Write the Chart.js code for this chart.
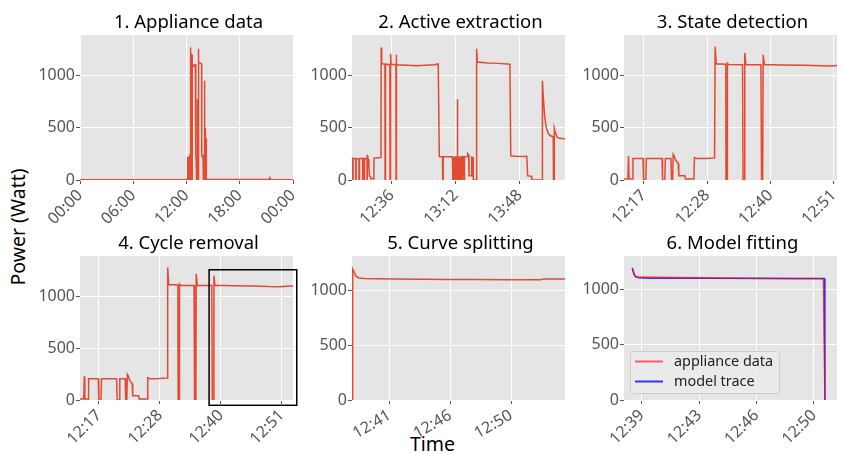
<!DOCTYPE html>
<html>
<head>
<meta charset="utf-8">
<script src="https://cdn.jsdelivr.net/npm/chart.js@4.4.1/dist/chart.umd.min.js"></script>
<style>
  body { margin: 0; background: #fff; }
  #fig { position: relative; width: 842px; height: 454px; overflow: hidden; font-family: "Noto Sans", sans-serif; }
  #fig canvas { position: absolute; }
  .rotulo { position: absolute; font-size: 19.5px; line-height: 1; color: #000; white-space: nowrap; }
</style>
</head>
<body>
<div id="fig">
  <div class="rotulo" style="left:17.5px; top:227px; transform: translate(-50%, -50%) rotate(-90deg);">Power (Watt)</div>
  <div class="rotulo" style="left:432.5px; top:444px; transform: translate(-50%, -50%);">Time</div>
</div>
<script>
Chart.defaults.font.family = '"Noto Sans", sans-serif';
Chart.defaults.font.size = 16;
Chart.defaults.color = "#555555";

/* ========================= */
/* DATOS (minutos del día)   */
/* ========================= */

const powerTicks = [0, 500, 1000];

// 1. Appliance data: 24 h
const dayTicks = [0, 360, 720, 1080, 1440];
const dayLabels = ["00:00", "06:00", "12:00", "18:00", "00:00"];
const dayBefore = [
  [0, 3], [725.4, 3], [725.5, 220], [727.0, 220], [727.1, 0], [728.0, 0], [728.1, 220],
  [730.0, 215], [730.1, 0], [731.0, 0], [731.1, 220], [733.6, 215]
];
const dayAfter = [
  [854.0, 0], [854.5, 4], [1283.0, 4], [1283.3, 22], [1285.5, 20], [1285.8, 4], [1440, 3]
];

// 2. Active extraction
const activeTicks = [756, 792, 828];
const activeLabels = ["12:36", "13:12", "13:48"];
const activeTrace = [
  [733.7, 215], [734.1, 215], [734.1, 0], [734.3, 0], [734.3, 205], [735.8, 205], [735.8, 0],
  [736.0, 0], [736.0, 205], [737.6, 200], [737.6, 0], [737.9, 0], [737.9, 205], [739.7, 205],
  [739.7, 0], [739.9, 0], [739.9, 205], [740.6, 205], [740.6, 0], [740.8, 0], [740.8, 205],
  [742.1, 205], [742.2, 0], [742.3, 242], [742.8, 200], [743.2, 120], [743.4, 80], [743.5, 40],
  [744.2, 30], [744.3, 12], [746.0, 12], [746.1, 210], [750.0, 215], [750.1, 1270], [750.4, 1115],
  [752.2, 1110], [752.3, 0], [752.5, 0], [752.6, 1110], [755.0, 1105], [755.1, 0], [755.4, 0],
  [755.5, 1210], [755.7, 1110], [758.4, 1105], [758.5, 0], [758.6, 1200], [758.8, 1105],
  [765, 1100], [770, 1096], [775, 1100], [780, 1104], [782.2, 1112], [782.8, 225], [784.6, 222],
  [784.7, 0], [784.9, 0], [785.0, 222], [790.2, 222],
  [790.3, 0], [790.5, 0], [790.6, 220], [790.9, 220], [791.0, 0], [791.2, 0], [791.3, 220],
  [791.6, 220], [791.7, 0], [791.9, 0], [792.0, 222], [792.4, 222], [792.5, 0], [792.7, 0],
  [792.8, 220], [792.9, 775], [793.0, 220], [793.3, 220], [793.4, 0], [793.6, 0], [793.7, 220],
  [794.1, 220], [794.2, 0], [794.4, 0], [794.5, 220], [794.9, 220], [795.0, 0], [795.2, 0],
  [795.3, 225], [795.8, 225], [795.9, 0], [796.1, 0], [796.2, 222], [796.7, 222], [796.8, 0],
  [797.0, 0], [797.1, 222], [798.7, 225], [798.8, 252], [799.3, 240], [799.5, 40], [800.9, 40],
  [801.0, 220], [801.8, 215], [801.9, 0], [803.7, 0], [803.8, 1258], [804.2, 1130], [810, 1122],
  [816, 1118], [822.5, 1110], [823.0, 232], [826, 228], [830, 225], [832.0, 228], [832.5, 40],
  [834.7, 35], [834.8, 0], [840.7, 0], [840.8, 951], [841.3, 800], [842, 620], [843, 500],
  [844, 450], [845.1, 426], [846.9, 415], [847.0, 0], [847.4, 0], [847.5, 497], [848, 460],
  [849, 415], [849.8, 403], [853.5, 392]
];

// 3. State detection / 4. Cycle removal
const stateTicks = [737.33, 748.67, 760, 771.33];
const stateLabels = ["12:17", "12:28", "12:40", "12:51"];
const stateTrace = [
  [733.4, 10], [734.5, 10], [734.6, 230], [734.7, 10], [735.3, 10], [735.4, 205], [737.2, 205],
  [737.3, 0], [737.7, 0], [737.8, 205], [740.6, 205], [740.7, 0], [741.1, 0], [741.2, 205],
  [742.2, 205], [742.3, 0], [742.5, 0], [742.6, 247], [742.8, 230], [743.0, 195], [743.3, 170],
  [743.5, 160], [743.6, 40], [744.7, 40], [744.8, 10], [746.3, 10], [746.4, 215], [746.9, 205],
  [748.5, 207], [750.0, 212], [750.1, 1280], [750.3, 1115], [752.0, 1110], [752.05, 0],
  [752.25, 0], [752.3, 1120], [752.5, 1108], [755.0, 1105], [755.1, 0], [755.35, 0],
  [755.4, 1218], [755.6, 1108], [758.3, 1105], [758.4, 0], [758.6, 0], [758.7, 1200],
  [758.9, 1108], [762, 1103], [766, 1100], [769, 1095], [771, 1094], [772, 1097], [773.4, 1100]
];
const boxTime = [757.8, 774.1];
const boxPower = [-51, 1257];

// 5. Curve splitting
const cycleTicks = [761.5, 766, 770.5];
const cycleLabels = ["12:41", "12:46", "12:50"];
const cycleTrace = [
  [758.7, 0], [758.75, 1195], [758.85, 1170], [759.0, 1130], [759.2, 1115], [759.6, 1110],
  [760.5, 1108], [762, 1106], [764, 1103], [766, 1101], [768, 1100], [770, 1099],
  [772.7, 1099], [772.9, 1104], [774.5, 1105]
];

// 6. Model fitting
const fitTicks = [759.5, 763.17, 766.83, 770.5];
const fitLabels = ["12:39", "12:43", "12:46", "12:50"];
const fitAppliance = [
  [758.9, 1190], [759.05, 1130], [759.2, 1110], [759.5, 1112], [761, 1110], [762, 1108],
  [763.5, 1106], [765, 1100], [767, 1098], [769, 1097], [771.1, 1096], [771.2, 0]
];
const fitModel = [
  [758.9, 1195], [759.0, 1140], [759.1, 1115], [759.3, 1105], [760, 1101], [765, 1100],
  [771.15, 1098], [771.2, 0]
];

/* ========================= */
/* GEOMETRÍA                 */
/* ========================= */

const EJE_Y_W = 70;
const ANCHO_PLOT = 213;
const MARGEN_DER = 6;
const COLS = [80, 352, 624];
const FILAS = [
  { top: 35, h: 145, canvasTop: 0, canvasH: 225 },
  { top: 256, h: 144, canvasTop: 221, canvasH: 233 }
];

const ROJO = "#E24A33";

/* ========================= */
/* PLUGINS                   */
/* ========================= */

const pluginFondo = {
  id: "fondo",
  beforeDraw(chart) {
    const { ctx, chartArea } = chart;
    ctx.save();
    ctx.fillStyle = "#E5E5E5";
    ctx.fillRect(chartArea.left, chartArea.top, chartArea.width, chartArea.height);
    ctx.restore();
  }
};

const pluginTitulo = {
  id: "titulo",
  afterDraw(chart, args, opts) {
    if (!opts.text) return;
    const { ctx, chartArea } = chart;
    ctx.save();
    ctx.font = '18.5px "Noto Sans", sans-serif';
    ctx.fillStyle = "#000";
    ctx.textAlign = "center";
    ctx.textBaseline = "alphabetic";
    ctx.fillText(opts.text, (chartArea.left + chartArea.right) / 2 + 2, chartArea.top - 7);
    ctx.restore();
  }
};

const pluginRecuadro = {
  id: "recuadro",
  afterDraw(chart, args, opts) {
    if (!opts.x) return;
    const { ctx, scales } = chart;
    const x0 = scales.x.getPixelForValue(opts.x[0]);
    const x1 = scales.x.getPixelForValue(opts.x[1]);
    const y0 = scales.y.getPixelForValue(opts.y[1]);
    const y1 = scales.y.getPixelForValue(opts.y[0]);
    ctx.save();
    ctx.strokeStyle = "#000";
    ctx.lineWidth = 1.5;
    ctx.strokeRect(x0, y0, x1 - x0, y1 - y0);
    ctx.restore();
  }
};

const pluginLeyenda = {
  id: "leyendaInterna",
  afterDraw(chart, args, opts) {
    if (!opts.show) return;
    const { ctx, chartArea } = chart;
    const x = chartArea.left + 6;
    const y = chartArea.bottom - 49;
    ctx.save();
    ctx.fillStyle = "rgba(235,235,235,0.85)";
    ctx.strokeStyle = "#cccccc";
    ctx.lineWidth = 1;
    ctx.beginPath();
    ctx.roundRect(x + 0.5, y + 0.5, 149, 42, 3);
    ctx.fill();
    ctx.stroke();
    ctx.font = '14.4px "Noto Sans", sans-serif';
    ctx.textBaseline = "middle";
    chart.data.datasets.forEach((d, i) => {
      const yy = y + 10.5 + i * 20;
      ctx.strokeStyle = d.borderColor;
      ctx.lineWidth = 2;
      ctx.beginPath();
      ctx.moveTo(x + 5, yy);
      ctx.lineTo(x + 33, yy);
      ctx.stroke();
      ctx.fillStyle = "#222";
      ctx.fillText(d.label, x + 44, yy);
    });
    ctx.restore();
  }
};

Chart.register(pluginFondo, pluginTitulo, pluginRecuadro, pluginLeyenda);

/* ========================= */
/* PANELES                   */
/* ========================= */

function serie(label, puntos, color) {
  return {
    label,
    data: puntos.map(([t, w]) => ({ x: t, y: w })),
    borderColor: color,
    borderWidth: 1.5,
    pointRadius: 0,
    tension: 0,
    fill: false
  };
}

const paneles = [
  {
    titulo: "1. Appliance data", col: 0, fila: 0, xMin: 0, xMax: 1440, yMax: 1390, rot: 45,
    ticks: dayTicks, etiquetas: dayLabels,
    series: [serie("appliance data", [...dayBefore, ...activeTrace, ...dayAfter], ROJO)]
  },
  {
    titulo: "2. Active extraction", col: 1, fila: 0, xMin: 733.7, xMax: 853.5, yMax: 1390, rot: 45,
    ticks: activeTicks, etiquetas: activeLabels,
    series: [serie("appliance data", activeTrace, ROJO)]
  },
  {
    titulo: "3. State detection", col: 2, fila: 0, xMin: 733.8, xMax: 771.9, yMax: 1390, rot: 45,
    ticks: stateTicks, etiquetas: stateLabels,
    series: [serie("appliance data", stateTrace, ROJO)]
  },
  {
    titulo: "4. Cycle removal", col: 0, fila: 1, xMin: 733.8, xMax: 773.4, yMax: 1390, rot: 45,
    ticks: stateTicks, etiquetas: stateLabels,
    series: [serie("appliance data", stateTrace, ROJO)],
    recuadro: { x: boxTime, y: boxPower }
  },
  {
    titulo: "5. Curve splitting", col: 1, fila: 1, xMin: 758.7, xMax: 774.5, yMax: 1315, rot: 30,
    ticks: cycleTicks, etiquetas: cycleLabels,
    series: [serie("appliance data", cycleTrace, ROJO)]
  },
  {
    titulo: "6. Model fitting", col: 2, fila: 1, xMin: 758.37, xMax: 771.97, yMax: 1302, rot: 45,
    ticks: fitTicks, etiquetas: fitLabels,
    series: [
      serie("appliance data", fitAppliance, "rgba(255,0,0,0.6)"),
      serie("model trace", fitModel, "rgba(0,0,255,0.78)")
    ],
    leyenda: true
  }
];

function crearPanel(p) {
  const fila = FILAS[p.fila];
  const lienzo = document.createElement("canvas");
  lienzo.width = EJE_Y_W + ANCHO_PLOT + MARGEN_DER;
  lienzo.height = fila.canvasH;
  lienzo.style.left = (COLS[p.col] - EJE_Y_W) + "px";
  lienzo.style.top = fila.canvasTop + "px";
  document.getElementById("fig").appendChild(lienzo);

  const padTop = fila.top - fila.canvasTop;
  const altoEjeX = fila.canvasH - padTop - fila.h;

  return new Chart(lienzo, {
    type: "line",
    data: { datasets: p.series },
    options: {
      responsive: false,
      animation: false,
      layout: { padding: { left: 0, right: MARGEN_DER, top: padTop, bottom: 0 } },
      plugins: {
        legend: { display: false },
        tooltip: { enabled: false },
        titulo: { text: p.titulo },
        recuadro: p.recuadro || {},
        leyendaInterna: { show: !!p.leyenda }
      },
      scales: {
        x: {
          type: "linear",
          min: p.xMin,
          max: p.xMax,
          afterBuildTicks: s => { s.ticks = p.ticks.map(v => ({ value: v })); },
          afterFit: s => {
            s.height = altoEjeX;
            s.paddingLeft = 0;
            s.paddingRight = 0;
          },
          ticks: {
            autoSkip: false,
            minRotation: p.rot,
            maxRotation: p.rot,
            padding: 2,
            color: "#555555",
            callback: (v, i) => p.etiquetas[i]
          },
          grid: { color: "#ffffff", lineWidth: 1, tickColor: "#555555", tickLength: 4 },
          border: { display: false }
        },
        y: {
          min: 0,
          max: p.yMax,
          afterBuildTicks: s => { s.ticks = powerTicks.map(v => ({ value: v })); },
          afterFit: s => {
            s.width = EJE_Y_W;
            s.paddingTop = 0;
            s.paddingBottom = 0;
          },
          ticks: { padding: 1, color: "#555555", callback: v => String(v) },
          grid: { color: "#ffffff", lineWidth: 1, tickColor: "#555555", tickLength: 4 },
          border: { display: false }
        }
      }
    }
  });
}

paneles.forEach(crearPanel);
</script>
</body>
</html>
